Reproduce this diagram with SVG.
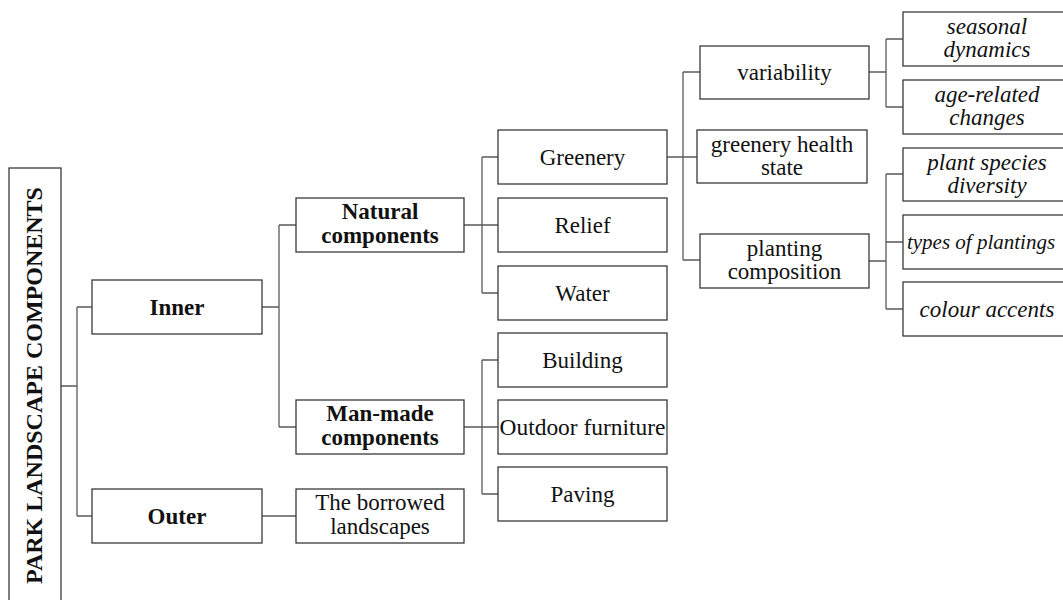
<svg xmlns="http://www.w3.org/2000/svg" width="1063" height="600" viewBox="0 0 1063 600">
<style>
rect{fill:#fff;stroke:#3a3a3a;stroke-width:1.3}
.c path{fill:none;stroke:#5a5a5a;stroke-width:1.3}
text{font-family:"Liberation Serif","Times New Roman",serif;font-size:23px;fill:#111;text-anchor:middle}
.b{font-weight:bold}
.i{font-style:italic}
</style>
<rect x="0" y="0" width="1063" height="600" style="stroke:none"/>
<g class="c" id="connectors">
<path d="M61,386H77M77,307V516M77,307H92M77,516H92"/>
<path d="M262,307H279M279,225V427M279,225H296M279,427H296"/>
<path d="M464,225H482M482,157V293M482,157H498M482,225H498M482,293H498"/>
<path d="M464,427H482M482,360V494M482,360H498M482,427H498M482,494H498"/>
<path d="M262,516H296"/>
<path d="M667,157H683M683,72V260M683,72H700M683,157H697M683,260H700"/>
<path d="M869,72H886M886,39V107M886,39H903M886,107H903"/>
<path d="M869,261H886M886,174V309M886,174H903M886,242H903M886,309H903"/>
</g>
<g id="root"><rect x="9" y="168" width="52" height="445"/><text class="b" transform="translate(42,385.5) rotate(-90)" style="font-size:24px">PARK LANDSCAPE COMPONENTS</text></g>
<g id="inner"><rect x="92" y="280" width="170" height="54"/><text class="b" x="177" y="315">Inner</text></g>
<g id="outer"><rect x="92" y="489" width="170" height="54"/><text class="b" x="177" y="524">Outer</text></g>
<g id="natural"><rect x="296" y="198" width="168" height="54"/><text class="b" x="380" y="219">Natural</text><text class="b" x="380" y="243">components</text></g>
<g id="manmade"><rect x="296" y="400" width="168" height="54"/><text class="b" x="380" y="421">Man-made</text><text class="b" x="380" y="445">components</text></g>
<g id="borrowed"><rect x="296" y="489" width="168" height="54"/><text x="380" y="510">The borrowed</text><text x="380" y="534">landscapes</text></g>
<g id="greenery"><rect x="498" y="130" width="169" height="54"/><text x="582.5" y="165">Greenery</text></g>
<g id="relief"><rect x="498" y="198" width="169" height="54"/><text x="582.5" y="233">Relief</text></g>
<g id="water"><rect x="498" y="266" width="169" height="54"/><text x="582.5" y="301">Water</text></g>
<g id="building"><rect x="498" y="333" width="169" height="54"/><text x="582.5" y="368">Building</text></g>
<g id="furniture"><rect x="498" y="400" width="169" height="54"/><text x="582.5" y="435" textLength="166" lengthAdjust="spacingAndGlyphs">Outdoor furniture</text></g>
<g id="paving"><rect x="498" y="467" width="169" height="54"/><text x="582.5" y="502">Paving</text></g>
<g id="variability"><rect x="700" y="46" width="169" height="53"/><text x="784.5" y="80">variability</text></g>
<g id="health"><rect x="697" y="130" width="170" height="53"/><text x="782" y="152">greenery health</text><text x="782" y="175">state</text></g>
<g id="planting"><rect x="700" y="234" width="169" height="54"/><text x="784.5" y="256">planting</text><text x="784.5" y="279">composition</text></g>
<g id="seasonal"><rect x="903" y="12" width="169" height="54"/><text class="i" x="987" y="34">seasonal</text><text class="i" x="987" y="57">dynamics</text></g>
<g id="age"><rect x="903" y="80" width="169" height="54"/><text class="i" x="987" y="102">age-related</text><text class="i" x="987" y="125">changes</text></g>
<g id="species"><rect x="903" y="148" width="169" height="53"/><text class="i" x="987" y="170">plant species</text><text class="i" x="987" y="193">diversity</text></g>
<g id="types"><rect x="903" y="215" width="169" height="54"/><text class="i" x="981" y="249" style="font-size:21px">types of plantings</text></g>
<g id="colour"><rect x="903" y="282" width="169" height="54"/><text class="i" x="987" y="317">colour accents</text></g>
</svg>
